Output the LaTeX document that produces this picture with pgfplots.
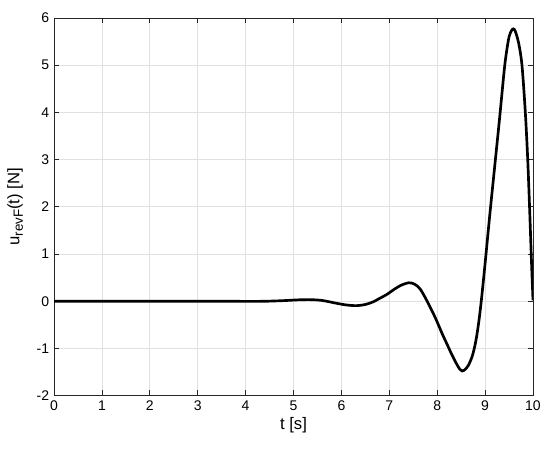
\documentclass[border=0pt]{standalone}
\usepackage{fontspec}
\setmainfont{Liberation Sans}
\usepackage{pgfplots}
\pgfplotsset{compat=1.18}

\definecolor{axgray}{gray}{0.15}
\definecolor{gridgray}{gray}{0.88}

\begin{document}
\fontsize{10.5}{12}\selectfont
\begin{tikzpicture}
\begin{axis}[
  scale only axis,
  width=359pt, height=283pt,
  xmin=0, xmax=10, ymin=-2, ymax=6,
  xtick={0,1,...,10}, ytick={-2,-1,...,6},
  grid=major,
  major grid style={gridgray, line width=0.5pt},
  axis line style={axgray, line width=0.5pt},
  tick style={axgray, line width=0.5pt},
  tick align=inside,
  major tick length=4pt,
  ticklabel style={font=\fontsize{10.5}{12}\selectfont, text=black},
  /pgf/number format/assume math mode=true,
  xlabel={t [s]},
  ylabel={u\raisebox{-0.4ex}{\fontsize{10}{10}\selectfont revF}(t) [N]},
  label style={font=\fontsize{12.5}{14}\selectfont},
  xlabel style={yshift=2pt},
  ylabel style={yshift=3pt},
]
\addplot[black, line width=2pt, smooth, tension=0.5] coordinates {
  (0,0) (1,0) (2,0) (3,0) (3.5,0) (4,-0.004) (4.4,-0.002) (4.8,0.012)
  (5.1,0.028) (5.35,0.032) (5.6,0.015) (5.9,-0.045) (6.1,-0.08)
  (6.32,-0.095) (6.5,-0.07) (6.65,-0.02) (6.8,0.06) (6.96,0.15)
  (7.1,0.25) (7.25,0.34) (7.41,0.39) (7.53,0.36) (7.65,0.25) (7.8,-0.02)
  (7.96,-0.35) (8.1,-0.68) (8.2,-0.9) (8.3,-1.12) (8.4,-1.32)
  (8.47,-1.44) (8.52,-1.48) (8.58,-1.45) (8.65,-1.36) (8.73,-1.17)
  (8.8,-0.88) (8.86,-0.5) (8.92,0.0) (9.0,0.8) (9.1,1.85) (9.2,2.85)
  (9.3,3.85) (9.4,4.9) (9.45,5.3) (9.5,5.6) (9.55,5.73) (9.59,5.77)
  (9.63,5.72) (9.7,5.47) (9.77,5.0) (9.84,4.0) (9.89,3.0) (9.93,1.95)
  (9.97,0.8) (10,0.02)
};
\end{axis}
\pgfresetboundingbox
\path ([xshift=-40.5pt, yshift=-39.75pt]current axis.south west)
      ([xshift=12.75pt, yshift=13.5pt]current axis.north east);
\end{tikzpicture}
\end{document}
